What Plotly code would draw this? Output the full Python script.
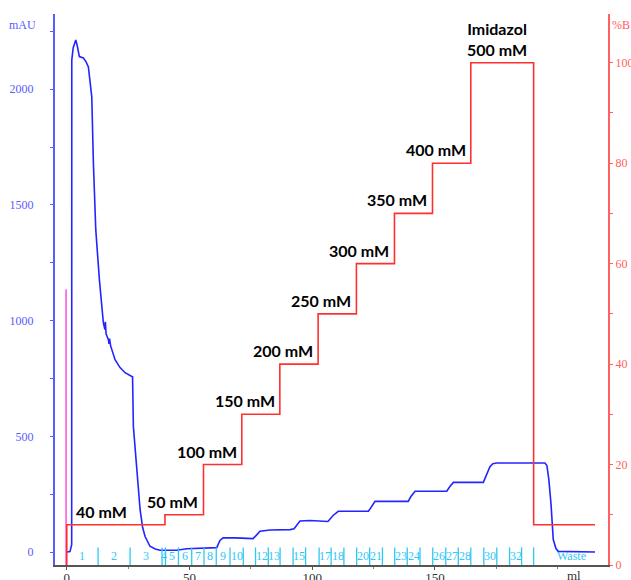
import plotly.graph_objects as go

# ---------------- data ----------------
uv_ml = [0, 1.3, 2.0, 2.04, 2.6, 3.67, 4.2, 5.13, 6.76, 7.86, 8.8, 9.5, 10.18, 10.84, 11.81,
         13.28, 14.9, 15.52, 15.72, 16.0, 16.95, 17.2, 17.43, 17.84, 19.67, 21.7, 23.75, 26.5,
         26.8, 27.13, 28.5, 29.86, 30.9, 31.9, 33.9, 36.0, 38.0, 44.8, 48.9, 55.5, 61.1, 62.4,
         63.7, 68.6, 75.9, 77.1, 78.7, 82.8, 91.0, 92.6, 95.0, 99.1, 106.4, 108.5, 110.6, 122.9,
         124.4, 125.6, 139.1, 140.2, 141.9, 154.8, 156.1, 157.5, 169.7, 171.2, 172.4, 173.6,
         175.2, 194.8, 195.6, 196.4, 197.3, 198.2, 199.3, 200.2, 215.2]
uv_mau = [0, 2, 32, 2126, 2178, 2213, 2191, 2141, 2135, 2118, 2096, 2040, 1967, 1682, 1393,
          1177, 991, 961, 995, 943, 918, 900, 922, 892, 831, 797, 775, 759, 758, 543, 356, 184,
          106, 67, 25, 13, 8, 8, 14, 17, 19, 50, 61, 61, 58, 71, 90, 95, 97, 101, 134, 136, 132,
          158, 176, 176, 201, 219, 219, 240, 263, 263, 283, 301, 301, 335, 369, 382, 385, 385,
          374, 313, 205, 54, 15, 3, 0]

grad_ml = [0, 0, 40.0, 55.7, 71.3, 86.8, 102.4, 118.0, 133.5, 149.0, 164.6, 190.2, 215.2]
grad_pct = [0, 8, 10, 20, 30, 40, 50, 60, 70, 80, 100, 8, 8]
step_labels = ["40 mM", "50 mM", "100 mM", "150 mM", "200 mM", "250 mM",
               "300 mM", "350 mM", "400 mM"]
final_label = "Imidazol<br>500 mM"

inject_ml = -0.3
inject_mau = 1136

frac_bounds = [0, 12.75, 25.8, 38.8, 40.2, 45.5, 50.9, 55.9, 60.9, 66.5, 71.9, 76.9, 82.1,
               86.9, 92.2, 97.3, 102.8, 107.7, 112.9, 118.1, 123.4, 128.6, 133.6, 138.7,
               143.9, 149.1, 154.4, 159.5, 164.6, 169.9, 175.2, 180.4, 185.3, 190.2]
frac_shown = ["1", "2", "3", "4", "5", "6", "7", "8", "9", "10", "12", "13", "15", "17",
              "18", "20", "21", "23", "24", "26", "27", "28", "30", "32"]
waste_ml = 205.5

x_ticks = [0, 50, 100, 150]
y_ticks = [0, 500, 1000, 1500, 2000]
y2_ticks = [0, 20, 40, 60, 80, 100]

# ---------------- styles ----------------
BLUE = "#2424ff"
BLUE_AX = "#5a5aff"
RED = "#ff3030"
RED_AX = "#ff6060"
CYAN = "#2ec8f5"
SERIF = "Liberation Serif"
LABEL_FONT = dict(family="Lato", size=16, color="black", weight="bold")

X_RANGE = [-4.8, 220.5]
Y_RANGE = [-56, 2325]
Y2_RANGE = [0, 109.7]

fig = go.Figure()

# fraction markers (y2 in %B units, short ticks at the bottom)
fx, fy = [], []
for b in frac_bounds[1:]:
    fx += [b, b, None]
    fy += [0, 3.5, None]
fig.add_trace(go.Scatter(x=fx, y=fy, yaxis="y2", mode="lines",
                         line=dict(color=CYAN, width=1.3), hoverinfo="skip"))

# injection mark
fig.add_trace(go.Scatter(x=[inject_ml, inject_ml], y=[Y_RANGE[0], inject_mau], mode="lines",
                         line=dict(color="#ff33dd", width=1.3), hoverinfo="skip"))

# UV trace
fig.add_trace(go.Scatter(x=uv_ml, y=uv_mau, mode="lines",
                         line=dict(color=BLUE, width=1.6)))

# gradient
fig.add_trace(go.Scatter(x=grad_ml, y=grad_pct, yaxis="y2", mode="lines",
                         line=dict(color=RED, width=1.6, shape="hv")))

annotations = []
# step labels
for i, txt in enumerate(step_labels):
    level = grad_pct[i + 1]
    if i == 0:
        annotations.append(dict(x=grad_ml[1] + 3.0, y=level, xref="x", yref="y2",
                                text=txt, showarrow=False, xanchor="left",
                                yanchor="bottom", yshift=2, font=LABEL_FONT))
    else:
        annotations.append(dict(x=grad_ml[i + 2] - 1.3, y=level, xref="x", yref="y2",
                                text=txt, showarrow=False, xanchor="right",
                                yanchor="bottom", yshift=2, font=LABEL_FONT))
annotations.append(dict(x=(grad_ml[10] + grad_ml[11]) / 2 - 2, y=grad_pct[10], xref="x",
                        yref="y2", text=final_label, showarrow=False, xanchor="center",
                        yanchor="bottom", yshift=2, font=LABEL_FONT))

# fraction labels
label_map = {}
for k in range(len(frac_bounds) - 1):
    label_map[str(k + 1)] = (frac_bounds[k] + frac_bounds[k + 1]) / 2
for t in frac_shown:
    annotations.append(dict(x=label_map[t], y=0.016, xref="x", yref="paper", text=t,
                            showarrow=False, xanchor="center", yanchor="middle",
                            font=dict(family=SERIF, size=12, color=CYAN)))
annotations.append(dict(x=waste_ml, y=0.016, xref="x", yref="paper", text="Waste",
                        showarrow=False, xanchor="center", yanchor="middle",
                        font=dict(family=SERIF, size=12, color=CYAN)))

# axis titles
annotations.append(dict(x=-0.058, y=0.98, xref="paper", yref="paper", text="mAU",
                        xanchor="center", yanchor="middle",
                        showarrow=False, font=dict(family=SERIF, size=12, color=BLUE_AX)))
annotations.append(dict(x=1.024, y=0.98, xref="paper", yref="paper", text="%B",
                        xanchor="center", yanchor="middle",
                        showarrow=False, font=dict(family=SERIF, size=12, color=RED_AX)))
annotations.append(dict(x=206.6, y=0, xref="x", yref="paper", text="ml", yanchor="top",
                        yshift=-1, showarrow=False,
                        font=dict(family=SERIF, size=13, color="#333333")))

fig.update_layout(
    width=631, height=580,
    margin=dict(l=55, r=23, t=14, b=15),
    paper_bgcolor="white", plot_bgcolor="white",
    showlegend=False,
    xaxis=dict(range=X_RANGE, showgrid=False, zeroline=False, showline=True,
               automargin=False,
               linecolor="#555555", linewidth=1.5, tickvals=x_ticks, ticks="outside",
               ticklen=3, tickcolor="#555555", ticklabelstandoff=-3,
               minor=dict(ticks="outside", ticklen=2, dtick=25, tick0=0,
                          tickcolor="#888888"),
               tickfont=dict(family=SERIF, size=13, color="#333333")),
    yaxis=dict(range=Y_RANGE, showgrid=False, zeroline=False, showline=True,
               automargin=False,
               linecolor=BLUE_AX, linewidth=2, tickvals=y_ticks, ticks="outside",
               ticklen=3, tickcolor=BLUE_AX, ticklabelstandoff=14,
               minor=dict(ticks="outside", ticklen=3, dtick=250, tick0=0,
                          tickcolor=BLUE_AX),
               tickfont=dict(family=SERIF, size=12, color=BLUE_AX)),
    yaxis2=dict(range=Y2_RANGE, overlaying="y", side="right", showgrid=False,
                automargin=False,
                zeroline=False, showline=True, linecolor=RED_AX, linewidth=2,
                tickvals=y2_ticks, ticks="outside", ticklen=3, tickcolor=RED_AX,
                minor=dict(ticks="outside", ticklen=3, dtick=10, tick0=0,
                           tickcolor=RED_AX),
                tickfont=dict(family=SERIF, size=12, color=RED_AX)),
    annotations=annotations,
)

fig.write_html("out.html", config={"displayModeBar": False},
               post_script="document.body.style.margin='0';"
                           "document.body.style.padding='0';")
